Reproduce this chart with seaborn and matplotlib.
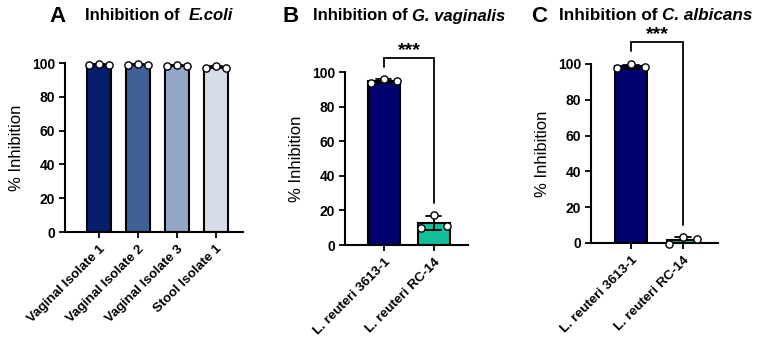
import numpy as np
import pandas as pd
import matplotlib
matplotlib.use("Agg")
import matplotlib.pyplot as plt
import seaborn as sns

# ---------------- data ----------------
ecoli_groups = ["Vaginal Isolate 1", "Vaginal Isolate 2", "Vaginal Isolate 3", "Stool Isolate 1"]
ecoli_rep1 = [98.8, 98.8, 98.2, 97.0]
ecoli_rep2 = [99.4, 99.6, 98.8, 98.2]
ecoli_rep3 = [98.8, 98.8, 98.2, 97.2]

strain_groups = ["L. reuteri 3613-1", "L. reuteri RC-14"]
gvag_rep1 = [93.4, 9.6]
gvag_rep2 = [96.0, 17.3]
gvag_rep3 = [94.8, 11.0]

calb_rep1 = [97.6, -0.3]
calb_rep2 = [100.2, 3.2]
calb_rep3 = [98.5, 2.1]

y_ticks = [0, 20, 40, 60, 80, 100]

ecoli_colors = ["#041e6a", "#3f6196", "#93a8c6", "#d6dce8"]
strain_colors = ["#02026e", "#10bf9a"]

# ---------------- style ----------------
sns.set_style("ticks")
plt.rcParams["font.family"] = ["Liberation Sans", "DejaVu Sans"]
for k in ("text.color", "axes.labelcolor", "xtick.color", "ytick.color", "axes.edgecolor"):
    plt.rcParams[k] = "black"


def long_df(groups, reps):
    rows = []
    for r, vals in enumerate(reps):
        for g, v in zip(groups, vals):
            rows.append({"group": g, "rep": f"r{r+1}", "value": v})
    return pd.DataFrame(rows)


def draw_panel(ax, groups, reps, colors, xlim):
    df = long_df(groups, reps)
    sns.barplot(data=df, x="group", y="value", hue="group", palette=colors,
                order=groups, hue_order=groups, legend=False, saturation=1,
                width=0.63, errorbar="sd", capsize=0.3,
                err_kws={"color": "black", "linewidth": 1.3},
                edgecolor="black", linewidth=1.5, ax=ax)
    sns.stripplot(data=df, x="group", y="value", hue="rep", order=groups,
                  palette=["white"] * len(reps), dodge=True, jitter=False,
                  size=5.2, edgecolor="black", linewidth=1.0, legend=False,
                  zorder=4, clip_on=False, ax=ax)
    ax.set_ylim(0, 100)
    ax.set_yticks(y_ticks)
    ax.set_xlim(*xlim)
    ax.set_xlabel("")
    ax.set_ylabel("% Inhibition", fontsize=12, labelpad=6)
    ax.tick_params(axis="both", length=4.5, width=1.3, labelsize=10)
    ax.tick_params(axis="y", pad=2.5)
    for lab in ax.get_yticklabels():
        lab.set_fontweight("bold")
    ax.set_xticks(range(len(groups)))
    ax.set_xticklabels(groups, rotation=45, ha="right", rotation_mode="anchor",
                       fontweight="bold", fontsize=9.6)
    sns.despine(ax=ax)
    for s in ("left", "bottom"):
        ax.spines[s].set_linewidth(1.5)
    return df


def bracket(ax, reps):
    vals = np.array(reps)
    top = vals.max() + 12
    left_end = top - 5
    right_end = vals[:, 1].max() + 7
    ax.plot([0, 0, 1, 1], [left_end, top, top, right_end], color="black",
            lw=1.3, clip_on=False, solid_joinstyle="miter")
    ax.annotate("***", xy=(0.5, top), xytext=(0, 2), textcoords="offset points",
                ha="center", va="baseline", fontsize=14, fontweight="bold",
                annotation_clip=False)


fig = plt.figure(figsize=(7.6, 3.4), dpi=100)
axA = fig.add_axes([0.0855, 0.3176, 0.2342, 0.4971])
axB = fig.add_axes([0.4539, 0.2794, 0.1618, 0.5088])
axC = fig.add_axes([0.7776, 0.2853, 0.1671, 0.5265])

draw_panel(axA, ecoli_groups, [ecoli_rep1, ecoli_rep2, ecoli_rep3], ecoli_colors, (-0.87, 3.69))
draw_panel(axB, strain_groups, [gvag_rep1, gvag_rep2, gvag_rep3], strain_colors, (-0.78, 1.68))
draw_panel(axC, strain_groups, [calb_rep1, calb_rep2, calb_rep3], strain_colors, (-0.77, 1.67))

bracket(axB, [gvag_rep1, gvag_rep2, gvag_rep3])
bracket(axC, [calb_rep1, calb_rep2, calb_rep3])

# titles
W, H = 760, 340
fig.canvas.draw()
renderer = fig.canvas.get_renderer()


def title(x_letter, letter, x_text, plain, italic, y=16, size=12):
    fig.text(x_letter / W, 1 - y / H, letter, va="center", fontsize=16, fontweight="bold")
    t1 = fig.text(x_text / W, 1 - y / H, plain, va="center", fontsize=size, fontweight="bold")
    bb = t1.get_window_extent(renderer)
    fig.text(bb.x1 / W, 1 - y / H, italic, va="center", fontsize=size,
             fontweight="bold", fontstyle="italic")


title(49, "A", 85, "Inhibition of  ", "E.coli")
title(283, "B", 313, "Inhibition of ", "G. vaginalis")
title(531, "C", 559, "Inhibition of ", "C. albicans", size=12.3)

fig.savefig("out.png", dpi=100)
